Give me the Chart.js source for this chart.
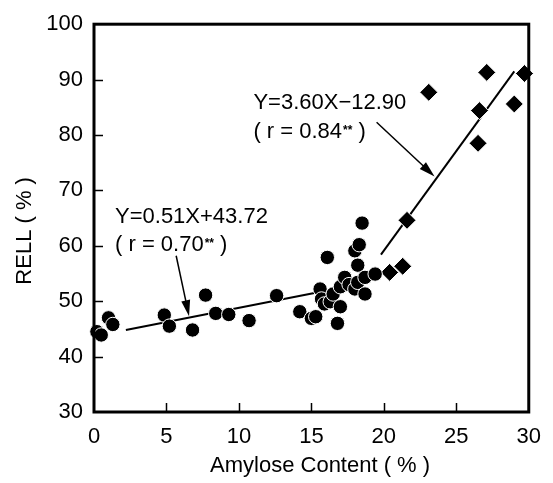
<!DOCTYPE html>
<html><head><meta charset="utf-8">
<script src="https://cdn.jsdelivr.net/npm/chart.js@4"></script>
<style>html,body{margin:0;padding:0;background:#fff}canvas{display:block}</style>
</head><body>
<canvas id="c" width="553" height="483"></canvas>
<script>
// ---- data ----
const circleX = [0.2, 0.5, 1.0, 1.3, 4.85, 5.2, 6.8, 7.7, 8.4, 9.3, 10.7, 12.6,
  14.2, 15.0, 15.3, 15.6, 15.7, 15.9, 16.1, 16.3, 16.5, 16.8, 17.0, 17.0, 17.3,
  17.6, 18.0, 18.0, 18.2, 18.2, 18.3, 18.5, 18.7, 18.7, 19.4];
const circleY = [44.5, 43.9, 47.0, 45.8, 47.5, 45.5, 44.8, 51.1, 47.8, 47.6, 46.5, 51.0,
  48.1, 46.9, 47.2, 52.2, 50.4, 49.5, 57.9, 49.9, 51.3, 46.0, 49.0, 52.6, 54.3,
  53.0, 52.2, 59.1, 56.5, 53.4, 60.2, 64.1, 54.3, 51.3, 54.9];
const diamondX = [20.4, 21.3, 21.6, 23.1, 26.5, 26.6, 27.1, 29.0, 29.7];
const diamondY = [55.2, 56.3, 64.6, 87.7, 78.5, 84.4, 91.3, 85.6, 91.1];
const fit1X = [2.2, 16.0];
const fit1Y = [44.8, 51.9];
const fit2X = [19.8, 29.0];
const fit2Y = [58.4, 91.5];
const xTicks = [0, 5, 10, 15, 20, 25, 30];
const yTicks = [30, 40, 50, 60, 70, 80, 90, 100];
const xTitle = 'Amylose Content ( % )';
const yTitle = 'RELL ( % )';
const eq1Lines = ['Y=0.51X+43.72', '( r = 0.70', '**', ' )'];
const eq2Lines = ['Y=3.60X\u221212.90', '( r = 0.84', '**', ' )'];

// ---- annotation placement (data coordinates) ----
const ann1 = {x: 1.45, y1: 65.3, y2: 60.2, from: [5.67, 58.2], to: [6.56, 47.3]};
const ann2 = {x: 11.0, y1: 85.8, y2: 80.6, from: [19.5, 82.3], to: [23.5, 72.5]};
const xTitleAt = 15.6;
const yTitleAt = 62.7;

const pts = (xs, ys) => xs.map((x, i) => ({x, y: ys[i]}));
const FONT = '"Liberation Sans", Arial, sans-serif';

const framePlugin = {
  id: 'frame',
  afterDatasetsDraw(chart) {
    const {ctx, chartArea: a, scales: {x, y}} = chart;
    ctx.save();
    ctx.strokeStyle = '#000';
    // inward ticks
    ctx.lineWidth = 1.5;
    ctx.beginPath();
    xTicks.forEach(v => {
      if (v === xTicks[0] || v === xTicks[xTicks.length - 1]) return;
      const px = Math.round(x.getPixelForValue(v)) + 0.5;
      ctx.moveTo(px, a.bottom); ctx.lineTo(px, a.bottom - 9);
    });
    yTicks.forEach(v => {
      if (v === yTicks[0] || v === yTicks[yTicks.length - 1]) return;
      const py = Math.round(y.getPixelForValue(v)) + 0.5;
      ctx.moveTo(a.left, py); ctx.lineTo(a.left + 9, py);
    });
    ctx.stroke();
    // frame
    ctx.lineWidth = 3;
    ctx.strokeRect(a.left, a.top, a.right - a.left, a.bottom - a.top);

    // axis titles
    ctx.fillStyle = '#000';
    ctx.textAlign = 'center';
    ctx.textBaseline = 'middle';
    ctx.font = '22px ' + FONT;
    ctx.fillText(xTitle, x.getPixelForValue(xTitleAt), a.bottom + 54);
    ctx.save();
    ctx.translate(25, y.getPixelForValue(yTitleAt));
    ctx.rotate(-Math.PI / 2);
    ctx.fillText(yTitle, 0, 0);
    ctx.restore();

    // annotations
    const drawEq = (ann, lines) => {
      ctx.fillStyle = '#000';
      ctx.textBaseline = 'middle';
      ctx.textAlign = 'left';
      ctx.font = '22px ' + FONT;
      const px = x.getPixelForValue(ann.x);
      ctx.fillText(lines[0], px, y.getPixelForValue(ann.y1));
      const py2 = y.getPixelForValue(ann.y2);
      ctx.fillText(lines[1], px, py2);
      let w = ctx.measureText(lines[1]).width;
      ctx.font = 'bold 12px ' + FONT;
      ctx.fillText(lines[2], px + w + 1, py2 - 1);
      w += ctx.measureText(lines[2]).width + 1;
      ctx.font = '22px ' + FONT;
      ctx.fillText(lines[3], px + w, py2);
    };
    const drawArrow = (ann) => {
      const x0 = x.getPixelForValue(ann.from[0]), y0 = y.getPixelForValue(ann.from[1]);
      const x1 = x.getPixelForValue(ann.to[0]), y1 = y.getPixelForValue(ann.to[1]);
      const ang = Math.atan2(y1 - y0, x1 - x0);
      const L = 16, W = 4.5;
      ctx.lineWidth = 1.5;
      ctx.beginPath();
      ctx.moveTo(x0, y0);
      ctx.lineTo(x1 - Math.cos(ang) * L * 0.8, y1 - Math.sin(ang) * L * 0.8);
      ctx.stroke();
      ctx.beginPath();
      ctx.moveTo(x1, y1);
      ctx.lineTo(x1 - Math.cos(ang) * L - Math.sin(ang) * W, y1 - Math.sin(ang) * L + Math.cos(ang) * W);
      ctx.lineTo(x1 - Math.cos(ang) * L + Math.sin(ang) * W, y1 - Math.sin(ang) * L - Math.cos(ang) * W);
      ctx.closePath();
      ctx.fill();
    };
    drawEq(ann1, eq1Lines); drawArrow(ann1);
    drawEq(ann2, eq2Lines); drawArrow(ann2);
    ctx.restore();
  }
};

new Chart(document.getElementById('c'), {
  type: 'scatter',
  data: {
    datasets: [
      {data: pts(fit1X, fit1Y), showLine: true, borderColor: '#000', borderWidth: 2, pointRadius: 0, order: 3},
      {data: pts(fit2X, fit2Y), showLine: true, borderColor: '#000', borderWidth: 2, pointRadius: 0, order: 3},
      {data: pts(circleX, circleY), pointStyle: 'circle', pointRadius: 7.2, backgroundColor: '#000',
        borderColor: '#fff', borderWidth: 1, order: 1, clip: false},
      {data: pts(diamondX, diamondY), pointStyle: 'rectRot', pointRadius: 9, backgroundColor: '#000',
        borderColor: '#fff', borderWidth: 1, order: 2, clip: false}
    ]
  },
  options: {
    responsive: false,
    animation: false,
    layout: {padding: {top: 18, right: 20, left: 0, bottom: 0}},
    plugins: {legend: {display: false}, tooltip: {enabled: false}},
    scales: {
      x: {
        type: 'linear', min: 0, max: 30,
        afterFit: s => { s.height = 71; },
        afterBuildTicks: s => { s.ticks = xTicks.map(v => ({value: v})); },
        grid: {display: false, drawTicks: false},
        border: {display: false},
        ticks: {padding: 12, color: '#000', font: {size: 22, family: FONT}, maxRotation: 0, autoSkip: false},
        title: {display: false}
      },
      y: {
        type: 'linear', min: 30, max: 100,
        afterFit: s => { s.width = 94; },
        afterBuildTicks: s => { s.ticks = yTicks.map(v => ({value: v})); },
        grid: {display: false, drawTicks: false},
        border: {display: false},
        ticks: {padding: 11, color: '#000', font: {size: 22, family: FONT}, autoSkip: false},
        title: {display: false}
      }
    }
  },
  plugins: [framePlugin]
});
</script>
</body></html>
